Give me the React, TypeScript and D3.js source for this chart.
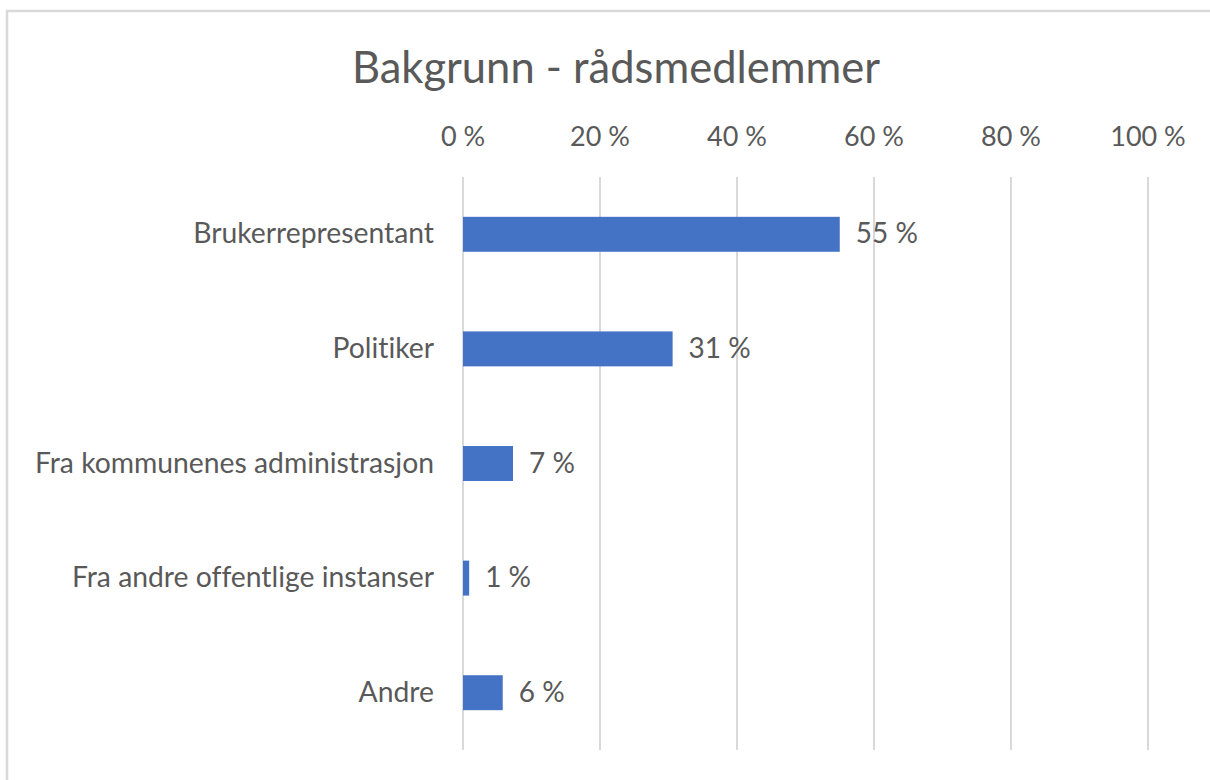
import React from "react";
import * as d3 from "d3";

const title = "Bakgrunn - rådsmedlemmer";
const categories = [
  "Brukerrepresentant",
  "Politiker",
  "Fra kommunenes administrasjon",
  "Fra andre offentlige instanser",
  "Andre",
];
const values = [0.55, 0.306, 0.073, 0.009, 0.058];
const ticks = [0, 0.2, 0.4, 0.6, 0.8, 1.0];

const W = 1210;
const H = 780;
const FONT = "Lato, 'Open Sans', sans-serif";
const TEXT = "#595959";
const GRID = "#d9d9d9";
const BAR = "#4472C4";

const pct = (v: number) => `${Math.round(v * 100)}\u00a0%`;

export default function App() {
  const x = d3.scaleLinear().domain([0, 1]).range([463, 1148]);
  const y = d3
    .scaleBand<string>()
    .domain(categories)
    .range([177, 750])
    .paddingInner(0.695)
    .paddingOuter(0.3475);
  const bw = y.bandwidth();

  return (
    <svg
      width={W}
      height={H}
      style={{
        position: "absolute",
        left: 0,
        top: 0,
        background: "#fff",
        fontVariantLigatures: "none",
      }}
      fontFamily={FONT}
    >
      <rect x={0} y={0} width={W} height={H} fill="#fff" />
      <rect
        x={7}
        y={11}
        width={W + 20}
        height={H + 20}
        fill="none"
        stroke={GRID}
        strokeWidth={2.5}
      />
      <text x={616} y={83} textAnchor="middle" fontSize={43.5} fill={TEXT}>
        {title}
      </text>
      {ticks.map((t) => (
        <g key={t}>
          <line
            x1={x(t)}
            x2={x(t)}
            y1={177}
            y2={750}
            stroke={GRID}
            strokeWidth={2}
          />
          <text
            x={x(t)}
            y={146}
            textAnchor="middle"
            fontSize={27}
            fill={TEXT}
          >
            {pct(t)}
          </text>
        </g>
      ))}
      {categories.map((c, i) => {
        const yc = (y(c) as number) + bw / 2;
        return (
          <g key={c}>
            <text
              x={434}
              y={yc + 9}
              textAnchor="end"
              fontSize={28.3}
              fill={TEXT}
            >
              {c}
            </text>
            <rect
              x={x(0)}
              y={y(c) as number}
              width={x(values[i]) - x(0)}
              height={bw}
              fill={BAR}
            />
            <text
              x={x(values[i]) + 16}
              y={yc + 9}
              textAnchor="start"
              fontSize={28}
              fill={TEXT}
            >
              {pct(values[i])}
            </text>
          </g>
        );
      })}
    </svg>
  );
}
